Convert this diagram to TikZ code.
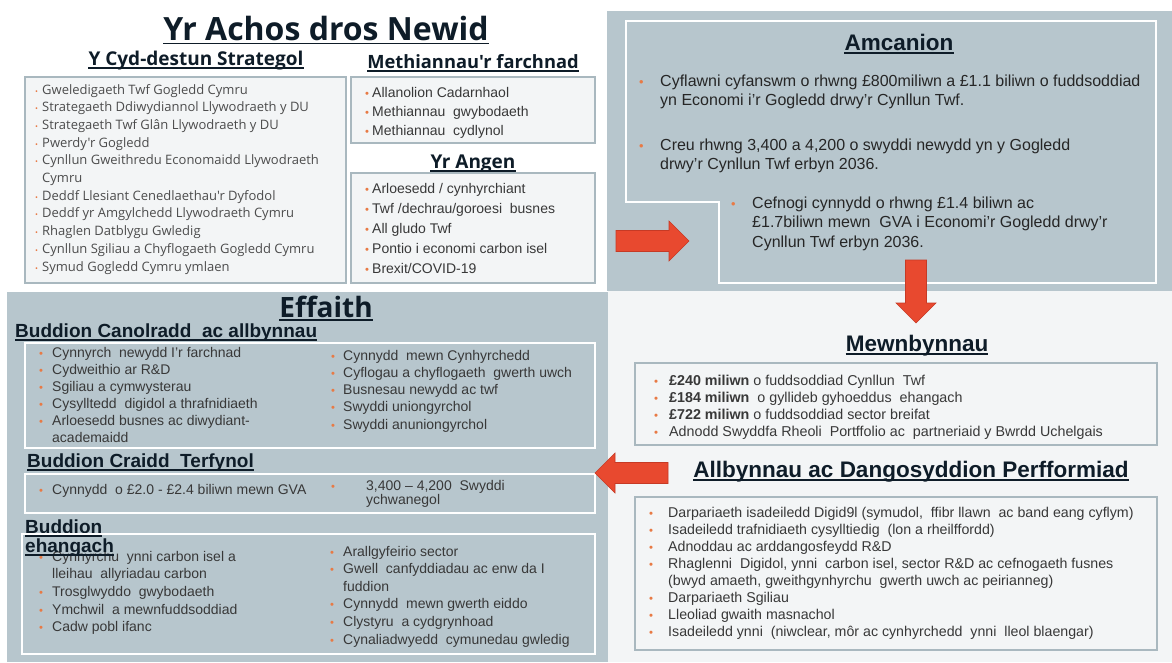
\documentclass[tikz,border=0pt]{standalone}
\usepackage{graphicx}
\usepackage{fontspec}
\setmainfont{Liberation Sans}
\newfontfamily\osans{Open Sans}
\usetikzlibrary{positioning}
\definecolor{pnl}{HTML}{B7C6CD}
\definecolor{lite}{HTML}{F3F5F6}
\definecolor{edge}{HTML}{A9B8BF}
\definecolor{orng}{HTML}{E87A45}
\definecolor{redar}{HTML}{E8492F}
\definecolor{redln}{HTML}{C63A25}
\definecolor{ink}{HTML}{0E1C28}
\definecolor{txt}{HTML}{383838}
\newlength\bw
\newcommand{\blt}{\textcolor{orng}{\scalebox{.8}{\textbullet}}}
\newcommand{\itm}[1]{\makebox[\bw][l]{\blt}#1}
\newcommand{\cnt}{\hspace*{\bw}}
\newcommand{\lns}[1]{\begin{tabular}[t]{@{}l@{}}#1\end{tabular}}
\tikzset{pics/blk/.style={code={
  \draw[arw] (0,-10.5) -- (#1-20,-10.5) -- (#1-20,-20) -- (#1,0) -- (#1-20,20) -- (#1-20,10.5) -- (0,10.5) -- cycle;}}}

\begin{document}
\begin{tikzpicture}[x=1pt, y=-1pt,
  pnlbox/.style={fill=pnl, draw=none},
  bx/.style={draw=edge, fill=lite, line width=1.2pt},
  wbx/.style={draw=white, line width=1.6pt},
  ttl/.style={inner sep=0, anchor=base, text=ink, font=\osans\bfseries\fontsize{19}{21}\selectfont},
  hd/.style={inner sep=0, anchor=base west, text=ink, font=\bfseries\fontsize{19}{21}\selectfont},
  lst/.style={inner sep=0, anchor=base west, text=txt},
  ul/.style={ink, line width=1.3pt},
  arw/.style={fill=redar, draw=redln, line width=.6pt}]
\useasboundingbox (0,0) rectangle (1172,662);

% panels
\fill[white] (0,0) rectangle (1172,662);
\path[pnlbox] (607,11) rectangle (1172,291);
\path[pnlbox] (7,292) rectangle (608,662);
\fill[lite] (608,291) rectangle (1172,662);

% the case for change
\node[ttl, font=\osans\bfseries\fontsize{32}{34}\selectfont] (t0) at (326,40) {Yr Achos dros Newid};
\node[ttl] (t1) at (196,65) {Y Cyd-destun Strategol};
\node[ttl, font=\osans\bfseries\fontsize{18.3}{21}\selectfont] (t2) at (473,68) {Methiannau'r farchnad};
\node[ttl] (t3) at (473,168) {Yr Angen};
\draw[bx] (25,77) rectangle (346,283);
\draw[bx] (351,77) rectangle (595,143);
\draw[bx] (351,173) rectangle (595,283);
\node[lst, text=txt!90, font=\osans\fontsize{13}{17.7}\selectfont\setlength\bw{7pt}\def\blt{\textcolor{orng}{\scalebox{.6}{\textbullet}}}] (l1) at (35,94) {\lns{%
\itm{Gweledigaeth Twf Gogledd Cymru}\\
\itm{Strategaeth Ddiwydiannol Llywodraeth y DU}\\
\itm{Strategaeth Twf Glân Llywodraeth y DU}\\
\itm{Pwerdy'r Gogledd}\\
\itm{Cynllun Gweithredu Economaidd Llywodraeth}\\
\cnt Cymru\\
\itm{Deddf Llesiant Cenedlaethau'r Dyfodol}\\
\itm{Deddf yr Amgylchedd Llywodraeth Cymru}\\
\itm{Rhaglen Datblygu Gwledig}\\
\itm{Cynllun Sgiliau a Chyflogaeth Gogledd Cymru}\\
\itm{Symud Gogledd Cymru ymlaen}}};
\node[lst, font=\fontsize{14}{19}\selectfont\setlength\bw{7pt}] (l2) at (365,97) {\lns{%
\itm{Allanolion Cadarnhaol}\\
\itm{Methiannau~ gwybodaeth}\\
\itm{Methiannau~ cydlynol}}};
\node[lst, font=\fontsize{14}{20}\selectfont\setlength\bw{7pt}] (l3) at (365,193) {\lns{%
\itm{Arloesedd / cynhyrchiant}\\
\itm{Twf /dechrau/goroesi~ busnes}\\
\itm{All gludo Twf}\\
\itm{Pontio i economi carbon isel}\\
\itm{Brexit/COVID-19}}};

% objectives
\draw[white, line width=2pt] (626,21) -- (1156,21) -- (1156,283) -- (719,283) -- (719,202) -- (626,202) -- cycle;
\node[ttl, font=\bfseries\fontsize{22.5}{24}\selectfont] (t4) at (899,50) {Amcanion};
\node[lst, text=black!85, font=\fontsize{16}{19.5}\selectfont\setlength\bw{21pt}] (a1) at (639,86) {\lns{%
\itm{Cyflawni cyfanswm o rhwng £800miliwn a £1.1 biliwn o fuddsoddiad}\\
\cnt yn Economi i'r Gogledd drwy'r Cynllun Twf.}};
\node[lst, text=black!85, font=\fontsize{16}{19.5}\selectfont\setlength\bw{21pt}] (a2) at (639,150) {\lns{%
\itm{Creu rhwng 3,400 a 4,200 o swyddi newydd yn y Gogledd}\\
\cnt drwy'r Cynllun Twf erbyn 2036.}};
\node[lst, text=black!85, font=\fontsize{16}{19.5}\selectfont\setlength\bw{21pt}] (a3) at (731,208) {\lns{%
\itm{Cefnogi cynnydd o rhwng £1.4 biliwn ac}\\
\cnt £1.7biliwn mewn~ GVA i Economi'r Gogledd drwy'r\\
\cnt Cynllun Twf erbyn 2036.}};

% inputs
\node[ttl, font=\bfseries\fontsize{22.5}{24}\selectfont] (t10) at (917,351) {Mewnbynnau};
\draw[bx] (635,363) rectangle (1157,445);
\node[lst, text=txt, font=\fontsize{14.3}{17}\selectfont\setlength\bw{15pt}] (m1) at (654,385) {\lns{%
\itm{\textbf{£240 miliwn} o fuddsoddiad Cynllun~ Twf}\\
\itm{\textbf{£184 miliwn}~ o gyllideb gyhoeddus~ ehangach}\\
\itm{\textbf{£722 miliwn} o fuddsoddiad sector breifat}\\
\itm{Adnodd Swyddfa Rheoli~ Portffolio ac~ partneriaid y Bwrdd Uchelgais}}};

% outputs
\node[ttl, font=\bfseries\fontsize{22.5}{24}\selectfont] (t11) at (911,477) {Allbynnau ac Dangosyddion Perfformiad};
\draw[bx] (635,497) rectangle (1157,650);
\node[lst, text=txt, font=\fontsize{14.2}{17}\selectfont\setlength\bw{19pt}] (o1) at (649,517) {\lns{%
\itm{Darpariaeth isadeiledd Digid9l (symudol,~ ffibr llawn~ ac band eang cyflym)}\\
\itm{Isadeiledd trafnidiaeth cysylltiedig~ (lon a rheilffordd)}\\
\itm{Adnoddau ac arddangosfeydd R\&D}\\
\itm{Rhaglenni~ Digidol, ynni~ carbon isel, sector R\&D ac cefnogaeth fusnes}\\
\cnt (bwyd amaeth, gweithgynhyrchu~ gwerth uwch ac peirianneg)\\
\itm{Darpariaeth Sgiliau}\\
\itm{Lleoliad gwaith masnachol}\\
\itm{Isadeiledd ynni~ (niwclear, môr ac cynhyrchedd~ ynni~ lleol blaengar)}}};

% impact
\node[ttl, font=\osans\bfseries\fontsize{28}{30}\selectfont] (t5) at (326,317) {Effaith};
\node[hd] (t6) at (15,337) {Buddion Canolradd~ ac allbynnau};
\draw[wbx] (25,343) rectangle (595,448);
\node[lst, font=\fontsize{14}{17.1}\selectfont\setlength\bw{13pt}] (e1) at (39,357) {\lns{%
\itm{Cynnyrch~ newydd I'r farchnad}\\
\itm{Cydweithio ar R\&D}\\
\itm{Sgiliau a cymwysterau}\\
\itm{Cysylltedd~ digidol a thrafnidiaeth}\\
\itm{Arloesedd busnes ac diwydiant-}\\
\cnt academaidd}};
\node[lst, font=\fontsize{14}{17.3}\selectfont\setlength\bw{12pt}] (e2) at (331,360) {\lns{%
\itm{Cynnydd~ mewn Cynhyrchedd}\\
\itm{Cyflogau a chyflogaeth~ gwerth uwch}\\
\itm{Busnesau newydd ac twf}\\
\itm{Swyddi uniongyrchol}\\
\itm{Swyddi anuniongyrchol}}};
\node[hd] (t7) at (27,467) {Buddion Craidd~ Terfynol};
\draw[wbx] (25,474) rectangle (595,513);
\node[lst, font=\fontsize{14}{17}\selectfont\setlength\bw{13pt}] (e3) at (39,494) {%
\itm{Cynnydd~ o £2.0 - £2.4 biliwn mewn GVA}};
\node[lst, font=\fontsize{14}{14}\selectfont\setlength\bw{35pt}] (e4) at (331,490) {\lns{%
\itm{3,400 – 4,200~ Swyddi}\\
\cnt ychwanegol}};
\node[hd] (t8) at (25,533) {Buddion};
\draw[wbx] (22,534) rectangle (595,654);
\node[lst, font=\fontsize{14}{17.7}\selectfont\setlength\bw{13pt}] (e5) at (39,561) {\lns{%
\itm{Cynhyrchu~ ynni carbon isel a}\\
\cnt lleihau~ allyriadau carbon\\
\itm{Trosglwyddo~ gwybodaeth}\\
\itm{Ymchwil~ a mewnfuddsoddiad}\\
\itm{Cadw pobl ifanc}}};
\node[lst, font=\fontsize{14}{17.6}\selectfont\setlength\bw{13pt}] (e6) at (330,556) {\lns{%
\itm{Arallgyfeirio sector}\\
\itm{Gwell~ canfyddiadau ac enw da I}\\
\cnt fuddion\\
\itm{Cynnydd~ mewn gwerth eiddo}\\
\itm{Clystyru~ a cydgrynhoad}\\
\itm{Cynaliadwyedd~ cymunedau gwledig}}};
\node[hd] (t9) at (25,552) {ehangach};

% underlines
\foreach \n in {t1,t2,t3,t4,t6,t7,t8,t9,t10,t11}
  \draw[ul] ([yshift=-3pt]\n.base west) -- ([yshift=-3pt]\n.base east);
\draw[ul, line width=1.8pt] ([yshift=-3.5pt]t0.base west) -- ([yshift=-3.5pt]t0.base east);
\draw[ul, line width=1.6pt] ([yshift=-3pt]t5.base west) -- ([yshift=-3pt]t5.base east);

% arrows
\pic at (616,241) {blk=73};
\pic[rotate=-90] at (916,260) {blk=63};
\pic[rotate=180] at (668,473) {blk=73};
\end{tikzpicture}
\end{document}
